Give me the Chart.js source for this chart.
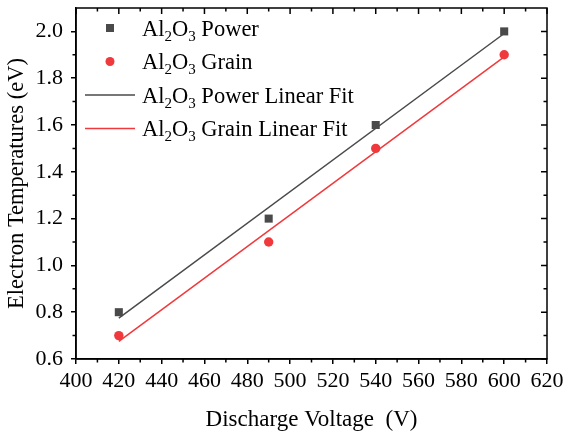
<!DOCTYPE html>
<html>
<head>
<meta charset="utf-8">
<script src="https://cdn.jsdelivr.net/npm/chart.js@4.4.1/dist/chart.umd.min.js"></script>
<style>
  html, body { margin: 0; padding: 0; background: #fff; }
  #wrap { width: 565px; height: 435px; position: relative; }
</style>
</head>
<body>
<div id="wrap"><canvas id="chart"></canvas></div>
<script>
// values
const voltage = [420, 490, 540, 600];
const powerTemp = [0.8, 1.2, 1.6, 2.0];
const grainTemp = [0.7, 1.1, 1.5, 1.9];
// linear fit lines (end points)
const fitVoltage = [420, 600];
const powerFit = [0.775, 1.991];
const grainFit = [0.675, 1.891];

const xTicks = [400, 420, 440, 460, 480, 500, 520, 540, 560, 580, 600, 620];
const yTicks = [0.6, 0.8, 1.0, 1.2, 1.4, 1.6, 1.8, 2.0];
const legendNames = ['Power', 'Grain', 'Power Linear Fit', 'Grain Linear Fit'];

const FONT = "'Liberation Serif', 'Times New Roman', serif";
const GRAY = '#4a4a4a';
const RED = '#f0393c';

const toPts = (xs, ys) => xs.map((x, i) => ({ x: x, y: ys[i] }));

// frame, mirrored ticks, minor ticks and the legend inside the plot
const frameAndLegend = {
  id: 'frameAndLegend',
  afterDraw(chart) {
    const ctx = chart.ctx;
    const a = chart.chartArea;
    const xs = chart.scales.x, ys = chart.scales.y;
    ctx.save();
    ctx.strokeStyle = '#000';
    ctx.lineWidth = 1.5;
    ctx.strokeRect(a.left, a.top, a.right - a.left, a.bottom - a.top);

    ctx.beginPath();
    // x ticks: top inward (major + minor), bottom minor outward
    for (let i = 0; i < xTicks.length; i++) {
      const px = xs.getPixelForValue(xTicks[i]);
      ctx.moveTo(px, a.top); ctx.lineTo(px, a.top + 6);
      if (i < xTicks.length - 1) {
        const mx = xs.getPixelForValue((xTicks[i] + xTicks[i + 1]) / 2);
        ctx.moveTo(mx, a.top); ctx.lineTo(mx, a.top + 3.5);
        ctx.moveTo(mx, a.bottom); ctx.lineTo(mx, a.bottom + 3.5);
      }
    }
    // y ticks: right inward, left minor outward
    for (let i = 0; i < yTicks.length; i++) {
      const py = ys.getPixelForValue(yTicks[i]);
      ctx.moveTo(a.right, py); ctx.lineTo(a.right - 6, py);
      const mv = yTicks[i] + 0.1;
      if (mv < ys.max) {
        const my = ys.getPixelForValue(mv);
        ctx.moveTo(a.right, my); ctx.lineTo(a.right - 3.5, my);
        ctx.moveTo(a.left, my); ctx.lineTo(a.left - 3.5, my);
      }
    }
    ctx.stroke();

    // legend
    const rowY = [28, 61.5, 95, 128.5];
    const textX = 142;
    for (let i = 0; i < 4; i++) {
      const cy = rowY[i];
      if (i === 0) {
        ctx.fillStyle = GRAY;
        ctx.fillRect(106, cy - 4, 8, 8);
      } else if (i === 1) {
        ctx.fillStyle = RED;
        ctx.beginPath(); ctx.arc(110, cy, 4.5, 0, Math.PI * 2); ctx.fill();
      } else {
        ctx.strokeStyle = i === 2 ? GRAY : RED;
        ctx.lineWidth = 1.5;
        ctx.beginPath(); ctx.moveTo(85, cy); ctx.lineTo(135, cy); ctx.stroke();
      }
      drawName(ctx, textX, cy + 7.5, legendNames[i]);
    }
    ctx.restore();
  }
};

function drawName(ctx, x, y, rest) {
  const parts = [['Al', 0], ['2', 1], ['O', 0], ['3', 1], [' ' + rest, 0]];
  ctx.fillStyle = '#000';
  ctx.textBaseline = 'alphabetic';
  ctx.textAlign = 'left';
  parts.forEach(([t, sub]) => {
    ctx.font = (sub ? '15px ' : '22.5px ') + FONT;
    ctx.fillText(t, x, sub ? y + 5 : y);
    x += ctx.measureText(t).width;
  });
}

const ctx = document.getElementById('chart').getContext('2d');
const myChart = new Chart(ctx, {
  type: 'scatter',
  data: {
    datasets: [
      {
        label: 'Al2O3 Power',
        data: toPts(voltage, powerTemp),
        pointStyle: 'rect',
        pointRadius: 5.7,
        backgroundColor: GRAY,
        borderWidth: 0
      },
      {
        label: 'Al2O3 Grain',
        data: toPts(voltage, grainTemp),
        pointStyle: 'circle',
        pointRadius: 4.7,
        backgroundColor: RED,
        borderWidth: 0
      },
      {
        label: 'Al2O3 Power Linear Fit',
        data: toPts(fitVoltage, powerFit),
        showLine: true,
        pointRadius: 0,
        borderColor: GRAY,
        borderWidth: 1.5
      },
      {
        label: 'Al2O3 Grain Linear Fit',
        data: toPts(fitVoltage, grainFit),
        showLine: true,
        pointRadius: 0,
        borderColor: RED,
        borderWidth: 1.5
      }
    ]
  },
  options: {
    responsive: true,
    maintainAspectRatio: false,
    animation: false,
    layout: { padding: { top: 8, right: 18, left: 0, bottom: 0 } },
    plugins: { legend: { display: false }, tooltip: { enabled: false } },
    scales: {
      x: {
        type: 'linear',
        min: 400,
        max: 620,
        afterBuildTicks: s => { s.ticks = xTicks.map(v => ({ value: v })); },
        afterFit: s => { s.height = 76; s.paddingLeft = 0; s.paddingRight = 0; },
        ticks: { color: '#000', font: { family: FONT, size: 22 }, padding: 4, maxRotation: 0, autoSkip: false },
        grid: { drawOnChartArea: false, drawTicks: true, tickLength: 5, color: '#000', lineWidth: 1.5 },
        border: { display: true, color: '#000', width: 1.5 },
        title: { display: true, text: 'Discharge Voltage  (V)', color: '#000', font: { family: FONT, size: 23 }, padding: { top: 0, bottom: 1 } }
      },
      y: {
        type: 'linear',
        min: 0.6,
        max: 2.1,
        afterBuildTicks: s => { s.ticks = yTicks.map(v => ({ value: v })); },
        afterFit: s => { s.width = 76; s.paddingTop = 0; s.paddingBottom = 0; },
        ticks: { color: '#000', font: { family: FONT, size: 22 }, padding: 8, callback: v => v.toFixed(1), autoSkip: false },
        grid: { drawOnChartArea: false, drawTicks: true, tickLength: 5, color: '#000', lineWidth: 1.5 },
        border: { display: true, color: '#000', width: 1.5 },
        title: { display: true, text: 'Electron Temperatures (eV)', color: '#000', font: { family: FONT, size: 22.5 }, padding: { top: 4, bottom: 0 } }
      }
    }
  },
  plugins: [frameAndLegend]
});
</script>
</body>
</html>
